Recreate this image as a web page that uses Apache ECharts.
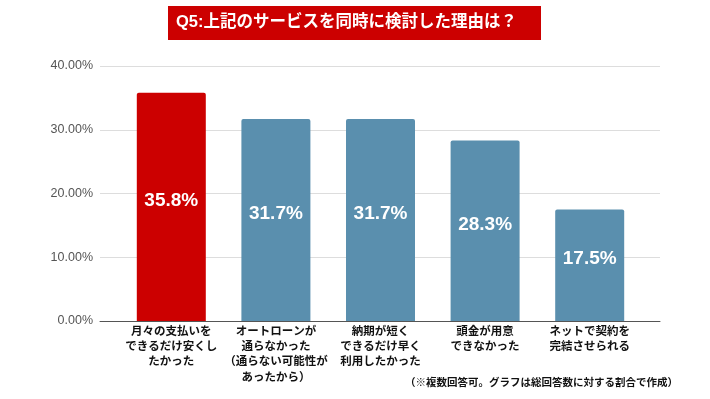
<!DOCTYPE html>
<html>
<head>
<meta charset="utf-8">
<script src="https://cdn.jsdelivr.net/npm/echarts@6/dist/echarts.min.js"></script>
<style>
html, body { margin: 0; padding: 0; background: #fff; }
#main { width: 710px; height: 399px; }
</style>
</head>
<body>
<div id="main"></div>
<script>
var categories = [
    '月々の支払いを\nできるだけ安くし\nたかった',
    'オートローンが\n通らなかった\n（通らない可能性が\nあったから）',
    '納期が短く\nできるだけ早く\n利用したかった',
    '頭金が用意\nできなかった',
    'ネットで契約を\n完結させられる'
];
var values = [35.8, 31.7, 31.7, 28.3, 17.5];
var barColors = ['#cc0000', '#5a8fae', '#5a8fae', '#5a8fae', '#5a8fae'];
var yTicks = [0, 10, 20, 30, 40];

var chart = echarts.init(document.getElementById('main'));
var font = '"Liberation Sans", "Noto Sans CJK JP", sans-serif';

option = {
    backgroundColor: '#ffffff',
    textStyle: { fontFamily: font },
    title: [
        {
            text: '（※複数回答可。グラフは総回答数に対する割合で作成）',
            right: 32,
            top: 378,
            padding: 0,
            textStyle: { fontSize: 10.5, fontWeight: 'bold', color: '#111', fontFamily: font }
        }
    ],
    graphic: [
        {
            type: 'rect',
            shape: { x: 168, y: 6, width: 373, height: 34 },
            style: { fill: '#cc0000' }
        },
        {
            type: 'text',
            left: 176,
            top: 14,
            style: {
                text: 'Q5:上記のサービスを同時に検討した理由は？',
                fill: '#fff',
                font: 'bold 16.5px ' + font
            }
        }
    ],
    grid: [
        { left: 100, right: 50, top: 66, bottom: 78 },
        { left: 119, right: 68, top: 66, bottom: 78 }
    ],
    xAxis: [
        {
            gridIndex: 0,
            type: 'value',
            show: true,
            axisLine: { show: true, onZero: false, lineStyle: { color: '#555', width: 1 } },
            axisTick: { show: false },
            axisLabel: { show: false },
            splitLine: { show: false }
        },
        {
            gridIndex: 1,
            type: 'category',
            data: categories,
            axisLine: { show: false },
            axisTick: { show: false },
            axisLabel: {
                interval: 0,
                margin: 3,
                color: '#111',
                fontSize: 11.5,
                fontWeight: 'bold',
                lineHeight: 15.3,
                fontFamily: font
            }
        }
    ],
    yAxis: [
        {
            gridIndex: 0,
            type: 'value',
            min: yTicks[0],
            max: yTicks[yTicks.length - 1],
            interval: 10,
            axisLine: { show: false },
            axisTick: { show: false },
            axisLabel: {
                margin: 7,
                color: '#555',
                fontSize: 12.5,
                fontFamily: font,
                formatter: function (v) { return v.toFixed(2) + '%'; }
            },
            splitLine: { lineStyle: { color: '#dddddd', width: 1 } }
        },
        {
            gridIndex: 1,
            type: 'value',
            min: yTicks[0],
            max: yTicks[yTicks.length - 1],
            show: false
        }
    ],
    series: [
        {
            type: 'bar',
            xAxisIndex: 1,
            yAxisIndex: 1,
            barWidth: 69,
            data: values.map(function (v, i) {
                return { value: v, itemStyle: { color: barColors[i] } };
            }),
            itemStyle: { borderRadius: [2, 2, 0, 0] },
            label: {
                show: true,
                position: 'inside',
                offset: [0, -6],
                color: '#fff',
                fontSize: 19,
                fontWeight: 'bold',
                fontFamily: font,
                formatter: function (p) { return p.value.toFixed(1) + '%'; }
            }
        }
    ]
};

chart.setOption(option);
</script>
</body>
</html>
